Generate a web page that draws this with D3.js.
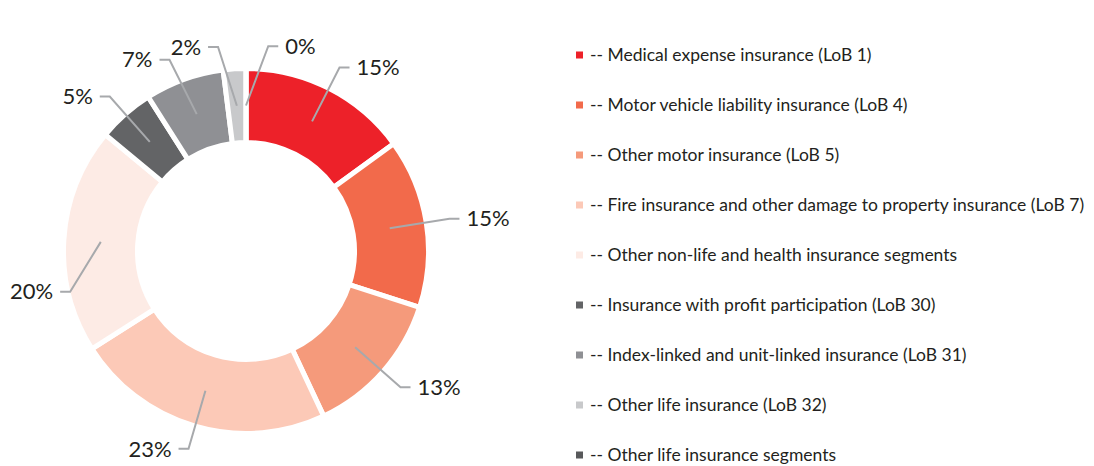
<!DOCTYPE html>
<html>
<head>
<meta charset="utf-8">
<script src="https://cdn.jsdelivr.net/npm/d3@7/dist/d3.min.js"></script>
<style>
  html, body { margin: 0; padding: 0; background: #fff; }
  svg { display: block; }
  text { font-family: Lato, "Open Sans", sans-serif; fill: #231f20; }
</style>
</head>
<body>
<svg id="chart" width="1094" height="466"></svg>
<script>
// ---- data ----
const categories = [
  "Medical expense insurance (LoB 1)",
  "Motor vehicle liability insurance (LoB 4)",
  "Other motor insurance (LoB 5)",
  "Fire insurance and other damage to property insurance (LoB 7)",
  "Other non-life and health insurance segments",
  "Insurance with profit participation (LoB 30)",
  "Index-linked and unit-linked insurance (LoB 31)",
  "Other life insurance (LoB 32)",
  "Other life insurance segments"
];
const values = [15, 15, 13, 23, 20, 5, 7, 2, 0];
const valueLabels = ["15%", "15%", "13%", "23%", "20%", "5%", "7%", "2%", "0%"];
const colors = ["#ed2129", "#f26a4b", "#f59a7b", "#fcc9b7", "#fdebe5",
                "#636466", "#8f9094", "#c8c9cb", "#58595b"];

// ---- layout ----
const svg = d3.select("#chart");
const W = 1094;
const cx = 246, cy = 251;
const outerR = 182.5, innerR = 108.5;
const elbowR = 206;
const margin = 10;

const g = svg.append("g").attr("transform", `translate(${cx},${cy})`);

const pie = d3.pie().sort(null).value(d => d.value);
const data = categories.map((c, i) => ({ name: c, value: values[i], label: valueLabels[i], color: colors[i] }));
const arcs = pie(data);
const arc = d3.arc().innerRadius(innerR).outerRadius(outerR);

g.selectAll("path.slice")
  .data(arcs)
  .join("path")
  .attr("class", "slice")
  .attr("d", arc)
  .attr("fill", d => d.data.color)
  .attr("stroke", "#fff")
  .attr("stroke-width", 5)
  .attr("stroke-linejoin", "miter");

// label angles: mid angles, spread to keep a minimum separation
const deg = Math.PI / 180;
const lab = arcs.map((d, i) => ({ i, a: (d.startAngle + d.endAngle) / 2 }));
const minSep = 14 * deg;
const sorted = lab.slice().sort((p, q) => p.a - q.a);
for (let it = 0; it < 200; it++) {
  for (let k = 0; k < sorted.length; k++) {
    const p = sorted[k], q = sorted[(k + 1) % sorted.length];
    let diff = q.a - p.a;
    if (k === sorted.length - 1) diff += 2 * Math.PI;
    if (diff < minSep) {
      const push = (minSep - diff) / 2;
      p.a -= push; q.a += push;
    }
  }
}

const pt = (a, r) => [Math.sin(a) * r, -Math.cos(a) * r];
const mid = d3.arc().innerRadius((innerR + outerR) / 2).outerRadius((innerR + outerR) / 2);

const labelG = g.append("g");
arcs.forEach((d, i) => {
  let a = lab.find(l => l.i === i).a;
  const start = mid.centroid(d);
  const line = labelG.append("polyline");
  const txt = labelG.append("text")
    .attr("dy", "0.35em")
    .style("font-size", "22px")
    .text(d.data.label);
  const tw = txt.node().getComputedTextLength();
  let r = elbowR;
  let elbow = pt(a, r);
  let right = elbow[0] >= 0;
  const need = 10 + 7 + tw;
  if (!right && cx + elbow[0] - need < margin) {
    // pull the tick in and rotate it downwards until the label fits
    r = outerR - 2;
    const s = Math.min(1, (cx - margin - need) / r);
    a = Math.PI + Math.asin(s);
    elbow = pt(a, r);
  } else if (right && cx + elbow[0] + need > W - margin) {
    r = outerR - 2;
    const s = Math.min(1, (W - margin - need - cx) / r);
    a = Math.PI - Math.asin(s);
    elbow = pt(a, r);
  }
  right = elbow[0] >= 0;
  const end = [elbow[0] + (right ? 10 : -10), elbow[1]];
  line
    .attr("points", [start, elbow, end].map(p => p.join(",")).join(" "))
    .attr("fill", "none")
    .attr("stroke", "#a7a9ac")
    .attr("stroke-width", 2);
  txt
    .attr("x", end[0] + (right ? 7 : -7))
    .attr("y", end[1])
    .attr("text-anchor", right ? "start" : "end");
});

// ---- legend ----
const legend = svg.append("g").attr("transform", "translate(576,55)");
const ly = d3.scalePoint().domain(categories).range([0, 400]);
const items = legend.selectAll("g.item")
  .data(data)
  .join("g")
  .attr("class", "item")
  .attr("transform", d => `translate(0,${ly(d.name)})`);
items.append("rect")
  .attr("x", 0).attr("y", -3.5)
  .attr("width", 7).attr("height", 7)
  .attr("fill", d => d.color);
items.append("text")
  .attr("x", 14)
  .attr("y", 0)
  .attr("dy", "0.35em")
  .style("font-size", "17.5px")
  .text(d => "-- " + d.name);
</script>
</body>
</html>
